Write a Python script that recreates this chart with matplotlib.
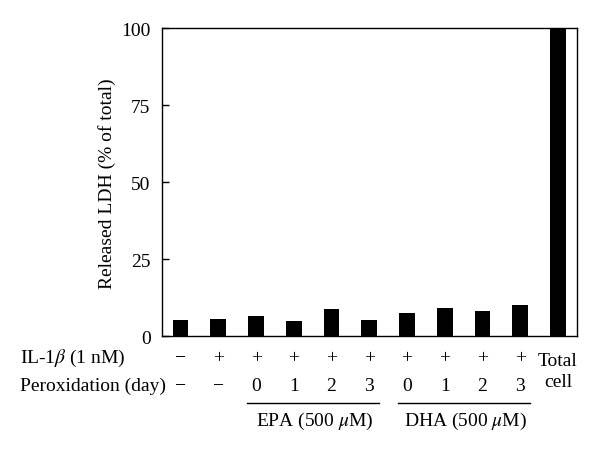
import matplotlib
matplotlib.use("Agg")
import matplotlib.pyplot as plt
import matplotlib.transforms as mtransforms
import numpy as np

values = [5.2, 5.4, 6.4, 5.0, 8.7, 5.3, 7.5, 9.0, 8.2, 10.2, 100]
il1b = ["\u2212", "+", "+", "+", "+", "+", "+", "+", "+", "+"]
perox = ["\u2212", "\u2212", "0", "1", "2", "3", "0", "1", "2", "3"]
yticks = [0, 25, 50, 75, 100]
groups = [("EPA (500 $\\mu$M)", 2, 5), ("DHA (500 $\\mu$M)", 6, 9)]

plt.rcParams["font.family"] = ["Liberation Serif", "DejaVu Serif"]
plt.rcParams["mathtext.fontset"] = "stix"
FS = 14

fig = plt.figure(figsize=(6, 4.52), dpi=100)
ax = fig.add_axes([0.2695, 0.2544, 0.962 - 0.2695, 0.9358 - 0.2544])
x = np.arange(len(values))
ax.bar(x, values, width=0.42, color="black")
ax.set_xlim(-0.5, 10.51)
ax.set_ylim(0, 100)
ax.set_yticks(yticks)
ax.set_yticklabels([str(t) for t in yticks], fontsize=FS)
ax.tick_params(axis="y", direction="in", length=5, width=1, pad=8)
ax.set_xticks([])
for s in ax.spines.values():
    s.set_linewidth(1.0)
fig.text(106.7 / 600, 1 - 184 / 452, "Released LDH (% of total)", rotation=90,
         ha="center", va="center", fontsize=FS)

tr = mtransforms.blended_transform_factory(ax.transData, fig.transFigure)
y1 = 1 - 363 / 452
y2 = 1 - 391 / 452
fig.text(20 / 600, y1, "IL-1$\\beta$ (1 nM)", ha="left", va="baseline", fontsize=FS)
fig.text(20 / 600, y2, "Peroxidation (day)", ha="left", va="baseline", fontsize=FS)
for i, (a, b) in enumerate(zip(il1b, perox)):
    ax.text(i, y1, a, transform=tr, ha="center", va="baseline", fontsize=FS)
    ax.text(i, y2, b, transform=tr, ha="center", va="baseline", fontsize=FS)
ax.text(10, 1 - 366 / 452, "Total", transform=tr, ha="center", va="baseline", fontsize=FS)
ax.text(10, 1 - 387 / 452, "cell", transform=tr, ha="center", va="baseline", fontsize=FS)

yl = 1 - 403.5 / 452
yg = 1 - 426 / 452
for label, a, b in groups:
    ax.plot([a - 0.23, b + 0.27], [yl, yl], transform=tr, color="black",
            lw=1.0, clip_on=False)
    ax.text((a + b) / 2 + 0.05, yg, label, transform=tr, ha="center",
            va="baseline", fontsize=FS)

fig.savefig("out.png", dpi=100)
